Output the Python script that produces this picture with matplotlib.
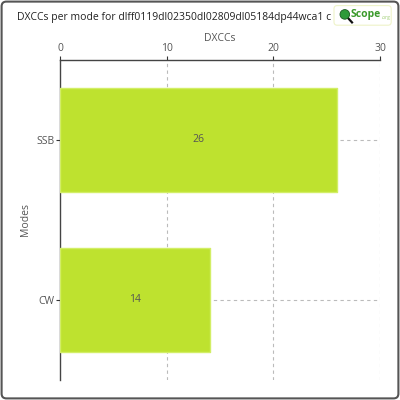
import matplotlib as mpl
mpl.use('agg')
import matplotlib.pyplot as plt
from matplotlib.patches import FancyBboxPatch, Circle
import numpy as np

MODES = ['SSB', 'CW']
DXCCS = [26, 14]
XTICKS = [0, 10, 20, 30]
TITLE = 'DXCCs per mode for dlff0119dl02350dl02809dl05184dp44wca1 c'

BAR_COLOR = '#bee22f'
TEXT_COLOR = '#555555'

plt.rcParams['font.family'] = ['Open Sans', 'DejaVu Sans']


def main():
    fig = plt.figure(figsize=(4, 4), dpi=100)
    axes = fig.add_axes([0.151, 0.05, 0.799, 0.80])

    ypos = np.arange(len(MODES))
    bars = axes.barh(ypos, DXCCS, height=0.65, color=BAR_COLOR,
                     edgecolor='#d2ee66', linewidth=1, zorder=3)
    for rect in bars:
        rect.set_joinstyle('round')

    for yval, val in zip(ypos, DXCCS):
        axes.text(val / 2, yval, str(val), ha='center', va='center',
                  fontsize=7.5, color=TEXT_COLOR, zorder=4)

    axes.set_xlim(0, 30)
    axes.set_ylim(len(MODES) - 0.5, -0.5)
    axes.set_yticks(ypos)
    axes.set_yticklabels(MODES)
    axes.set_xticks(XTICKS)

    axes.xaxis.tick_top()
    axes.xaxis.set_label_position('top')
    axes.set_xlabel('DXCCs', fontsize=7.5, color=TEXT_COLOR, labelpad=2)
    axes.set_ylabel('Modes', fontsize=7.5, color=TEXT_COLOR, labelpad=4)
    axes.tick_params(axis='both', labelsize=7.5, labelcolor=TEXT_COLOR,
                     color='#333333', length=3, width=0.8, pad=1)

    # grid lines
    for xval in XTICKS[1:]:
        axes.axvline(xval, color='#bbbbbb', linestyle=(0, (3, 3)),
                     linewidth=0.8, zorder=1)
    for yval in ypos:
        axes.axhline(yval, color='#bbbbbb', linestyle=(0, (3, 3)),
                     linewidth=0.8, zorder=1)

    for side in ['right', 'bottom']:
        axes.spines[side].set_visible(False)
    for side in ['left', 'top']:
        axes.spines[side].set_color('#444444')
        axes.spines[side].set_linewidth(1)

    fig.text(0.042, 0.956, TITLE, fontsize=7.5, color='#222222',
             ha='left', va='center')

    # logo
    logo = FancyBboxPatch((0.835, 0.937), 0.143, 0.049,
                          boxstyle='round,pad=0,rounding_size=0.008',
                          transform=fig.transFigure, facecolor='white',
                          edgecolor='#eef3c8', linewidth=0.8, zorder=5)
    fig.patches.append(logo)
    fig.patches.append(Circle((0.862, 0.964), 0.012, transform=fig.transFigure,
                              facecolor='#2e9a3a', edgecolor='#1a5a20',
                              linewidth=0.6, zorder=6))
    fig.lines.append(plt.Line2D([0.869, 0.880], [0.956, 0.944],
                                transform=fig.transFigure, color='#111111',
                                linewidth=1.6, zorder=6))
    fig.text(0.876, 0.963, 'Scope', fontsize=7.5, color='#3a9a2a',
             fontweight='bold', ha='left', va='center', zorder=6)
    fig.text(0.953, 0.955, '.org', fontsize=3.5, color='#9ccc70',
             ha='left', va='center', zorder=6)

    # frame
    frame = FancyBboxPatch((0.004, 0.004), 0.992, 0.992,
                           boxstyle='round,pad=0,rounding_size=0.012',
                           transform=fig.transFigure, facecolor='none',
                           edgecolor='#555555', linewidth=1.5, zorder=10)
    fig.patches.append(frame)

    fig.savefig('out.png', dpi=100)


if __name__ == '__main__':
    main()
